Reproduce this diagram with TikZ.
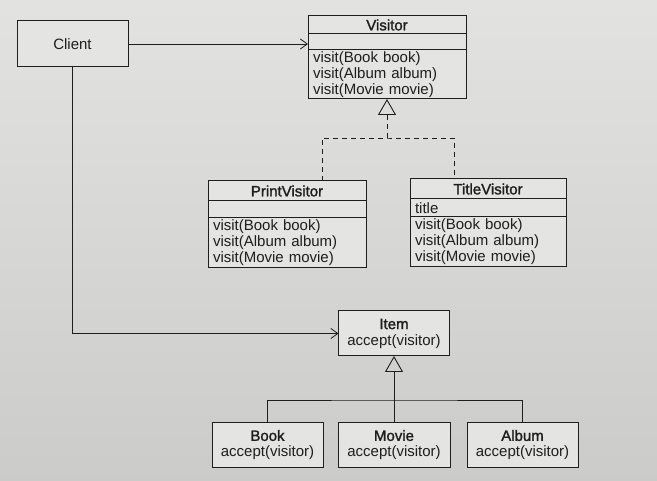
\documentclass[tikz,border=0pt]{standalone}
\usepackage{fontspec}
\setmainfont{Liberation Sans}
\newfontfamily\titlefont[FakeBold=1.5]{Liberation Sans}
\definecolor{pagegray}{RGB}{214, 214, 212}
\definecolor{boxgray}{RGB}{228, 228, 226}
\definecolor{inkgray}{RGB}{30, 30, 30}
\usetikzlibrary{arrows.meta, positioning}

\begin{document}
\begin{tikzpicture}[x=1pt, y=-1pt,
    classbox/.style={draw=inkgray, fill=boxgray, line width=1pt, inner sep=0pt, outer sep=0pt, text=inkgray,
      font=\fontsize{15}{16}\selectfont, align=center},
    partbox/.style={classbox, align=left, inner xsep=5pt, inner ysep=1pt},
    assoc/.style={draw=inkgray, line width=0.8pt, -{Straight Barb[length=7pt, width=10pt]}},
    realize/.style={draw=inkgray, line width=0.8pt, dash pattern=on 5pt off 4pt},
    inherit/.style={draw=inkgray, line width=0.8pt, -{Triangle[open, length=16pt, width=18pt, line width=0.9pt]}}]
  % Page background
  \useasboundingbox (0,0) rectangle (657,481);
  \fill[top color=pagegray!70!white, bottom color=pagegray!95!black] (0,0) rectangle (657,481);

  % Client
  \node[classbox, minimum width=111pt, minimum height=46pt] (client) at (72.5,44) {Client};

  % Visitor interface
  \node[classbox, minimum width=158pt, minimum height=18pt] (visitor) at (387,25) {\titlefont Visitor};
  \node[partbox, text width=148pt, minimum height=16pt, below=0pt of visitor] (visitor-attr) {};
  \node[partbox, text width=148pt, minimum height=49pt, below=0pt of visitor-attr] (visitor-ops) {visit(Book book)\\visit(Album album)\\visit(Movie movie)};

  % PrintVisitor
  \node[classbox, minimum width=158pt, minimum height=20pt] (pv) at (287,191) {\titlefont PrintVisitor};
  \node[partbox, text width=148pt, minimum height=17pt, below=0pt of pv] (pv-attr) {};
  \node[partbox, text width=148pt, minimum height=50pt, below=0pt of pv-attr] (pv-ops) {visit(Book book)\\visit(Album album)\\visit(Movie movie)};

  % TitleVisitor
  \node[classbox, minimum width=156pt, minimum height=20pt] (tv) at (488,189) {\titlefont TitleVisitor};
  \node[partbox, text width=146pt, minimum height=18pt, below=0pt of tv] (tv-attr) {title};
  \node[partbox, text width=146pt, minimum height=50pt, below=0pt of tv-attr] (tv-ops) {visit(Book book)\\visit(Album album)\\visit(Movie movie)};

  % Item hierarchy
  \node[classbox, minimum width=111pt, minimum height=45pt] (item) at (394,333.5) {{\titlefont Item}\\accept(visitor)};
  \node[classbox, minimum width=111pt, minimum height=45pt] (book) at (267.5,445) {{\titlefont Book}\\accept(visitor)};
  \node[classbox, minimum width=112pt, minimum height=45pt] (movie) at (394,445) {{\titlefont Movie}\\accept(visitor)};
  \node[classbox, minimum width=111pt, minimum height=45pt] (album) at (522.5,445) {{\titlefont Album}\\accept(visitor)};

  % Client uses Visitor and Item
  \draw[assoc] (client.east) -- (client.east -| visitor-attr.west);
  \draw[assoc] (client.south) |- (item.west);

  % Visitors realize the interface
  \coordinate (vbranch) at (387,138);
  \draw[realize] ([xshift=35pt]pv.north) |- (vbranch) -| ([xshift=-34pt]tv.north);
  \draw[realize] (vbranch) -- (387,115);
  \draw[inherit] (387,116) -- (visitor-ops.south);

  % Items extend Item
  \coordinate (ibranch) at (394,400);
  \draw[draw=inkgray, line width=0.8pt] (book.north) |- (ibranch) -| (album.north);
  \draw[inherit] (movie.north) -- (item.south);
\end{tikzpicture}
\end{document}
